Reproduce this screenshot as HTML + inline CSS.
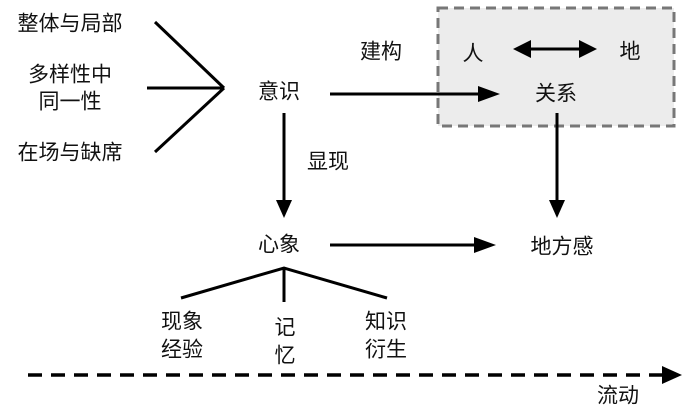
<!DOCTYPE html>
<html><head><meta charset="utf-8"><style>
html,body{margin:0;padding:0;background:#fff;}
svg{display:block;}
text{font-family:"Liberation Sans","Noto Sans CJK SC",sans-serif;font-size:21px;fill:#111;dominant-baseline:central;text-anchor:middle;}
</style></head><body>
<svg width="700" height="412" viewBox="0 0 700 412" xmlns="http://www.w3.org/2000/svg">
<rect x="438" y="8" width="236" height="118" fill="#ececec" stroke="#777" stroke-width="3" stroke-dasharray="10,6"/>
<g stroke="#000" stroke-width="3" fill="none">
<line x1="155" y1="22" x2="224" y2="88"/>
<line x1="147" y1="88" x2="224" y2="88"/>
<line x1="155" y1="152" x2="224" y2="88"/>
<line x1="330" y1="94" x2="480" y2="94"/>
<line x1="284" y1="113" x2="284" y2="200"/>
<line x1="557" y1="113" x2="557" y2="200"/>
<line x1="330" y1="245" x2="476" y2="245"/>
<line x1="528" y1="49" x2="582" y2="49"/>
<polyline points="181,298 284,268 387,298"/>
<line x1="284" y1="268" x2="284" y2="302"/>
<line x1="28" y1="375" x2="664" y2="375" stroke-dasharray="14,9" stroke-width="3.5"/>
</g>
<g fill="#000">
<polygon points="478,86 500,94 478,102"/>
<polygon points="276,200 292,200 284,218"/>
<polygon points="549,200 565,200 557,218"/>
<polygon points="474,237 496,245 474,253"/>
<polygon points="513,49 531,40 531,58"/>
<polygon points="597,49 579,40 579,58"/>
<polygon points="662,366 682,375 662,384"/>
</g>
<text x="70" y="24">整体与局部</text>
<text x="70" y="75">多样性中</text>
<text x="70" y="102">同一性</text>
<text x="70" y="153">在场与缺席</text>
<text x="279" y="92">意识</text>
<text x="381" y="52">建构</text>
<text x="473" y="54">人</text>
<text x="630" y="52">地</text>
<text x="556" y="94">关系</text>
<text x="328" y="162">显现</text>
<text x="279" y="245">心象</text>
<text x="562" y="247">地方感</text>
<text x="182" y="322">现象</text>
<text x="182" y="350">经验</text>
<text x="285" y="328">记</text>
<text x="285" y="356">忆</text>
<text x="386" y="322">知识</text>
<text x="386" y="350">衍生</text>
<text x="618" y="396">流动</text>
</svg>
</body></html>
